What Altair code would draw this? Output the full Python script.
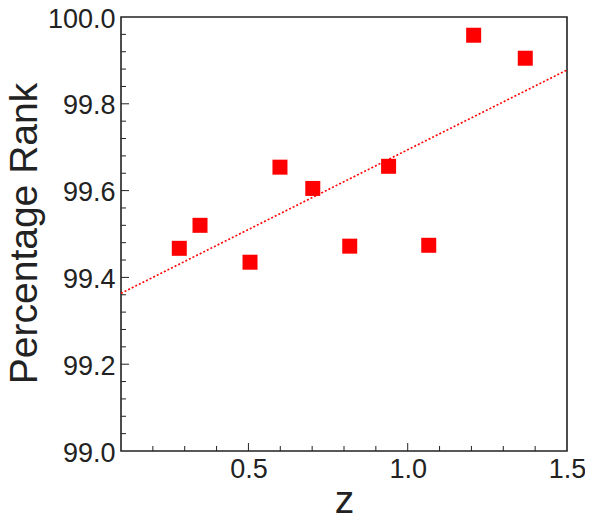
import altair as alt
import pandas as pd

# Data
z_values = [0.283, 0.348, 0.505, 0.599, 0.702, 0.818, 0.940, 1.066, 1.207, 1.369]
rank_values = [99.467, 99.520, 99.435, 99.654, 99.605, 99.472, 99.656, 99.474, 99.958, 99.905]

x_label_values = [0.5, 1.0, 1.5]
y_label_values = [99.0, 99.2, 99.4, 99.6, 99.8, 100.0]
x_major_ticks = [0.5, 1.0]
x_minor_ticks = [0.2, 0.3, 0.4, 0.6, 0.7, 0.8, 0.9, 1.1, 1.2, 1.3, 1.4]
y_major_ticks = [99.2, 99.4, 99.6, 99.8]
y_minor_ticks = [99.04, 99.08, 99.12, 99.16, 99.24, 99.28, 99.32, 99.36,
                 99.44, 99.48, 99.52, 99.56, 99.64, 99.68, 99.72, 99.76,
                 99.84, 99.88, 99.92, 99.96]

FONT = "Liberation Sans"
W, H = 446, 434

df = pd.DataFrame({"z": z_values, "rank": rank_values})
xmaj = pd.DataFrame({"z": x_major_ticks})
xmin = pd.DataFrame({"z": x_minor_ticks})
ymaj = pd.DataFrame({"rank": y_major_ticks})
ymin = pd.DataFrame({"rank": y_minor_ticks})

xscale = alt.Scale(domain=[0.1, 1.5], nice=False, zero=False)
yscale = alt.Scale(domain=[99.0, 100.0], nice=False, zero=False)

xaxis = alt.Axis(values=x_label_values, format=".1f", title="z",
                 labelPadding=5, labelFlush=False, labelOverlap=False,
                 titleX=W / 2, titleY=61, titleAlign="center",
                 titleBaseline="alphabetic")
yaxis = alt.Axis(values=y_label_values, format=".1f", title="Percentage Rank",
                 labelPadding=6, labelOffset=2, labelFlush=False, labelOverlap=False,
                 titleX=-85, titleY=H / 2 - 1, titleAngle=270, titleAlign="center",
                 titleBaseline="alphabetic")

X = alt.X("z:Q", scale=xscale, axis=xaxis)
Y = alt.Y("rank:Q", scale=yscale, axis=yaxis)

points = alt.Chart(df).mark_square(size=225, color="#ff0000", opacity=1).encode(x=X, y=Y)

fit = alt.Chart(df).transform_regression(
    "z", "rank", extent=[0.1, 1.5]
).mark_line(color="#ff0000", strokeDash=[2, 2], strokeWidth=1.6).encode(x=X, y=Y)

tick_color = "#222222"
xmaj_ticks = alt.Chart(xmaj).mark_rule(color=tick_color, strokeWidth=1).encode(
    x=X, y=alt.value(H), y2=alt.value(H - 8))
xmin_ticks = alt.Chart(xmin).mark_rule(color=tick_color, strokeWidth=1).encode(
    x=X, y=alt.value(H), y2=alt.value(H - 5))
ymaj_ticks = alt.Chart(ymaj).mark_rule(color=tick_color, strokeWidth=1).encode(
    y=Y, x=alt.value(0), x2=alt.value(8))
ymin_ticks = alt.Chart(ymin).mark_rule(color=tick_color, strokeWidth=1).encode(
    y=Y, x=alt.value(0), x2=alt.value(5))

chart = alt.layer(
    points, fit, xmin_ticks, xmaj_ticks, ymin_ticks, ymaj_ticks
).properties(
    width=W, height=H,
    autosize=alt.AutoSizeParams(type="none"),
    padding={"left": 113, "top": 9, "right": 18, "bottom": 72},
).configure_view(
    stroke="#222222", strokeWidth=1.6
).configure_axis(
    grid=False, domain=False, ticks=False, tickSize=0,
    labelFont=FONT, labelFontSize=27, labelColor="#222222",
    titleFont=FONT, titleFontSize=39, titleFontWeight="normal", titleColor="#222222",
)

chart.save("out.html", embed_options={"renderer": "svg", "actions": False})
